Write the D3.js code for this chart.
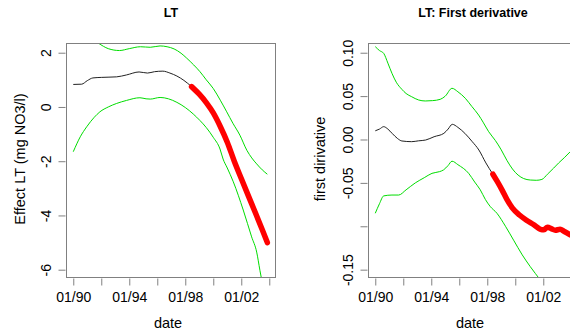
<!DOCTYPE html>
<html>
<head>
<meta charset="utf-8">
<script src="https://cdn.jsdelivr.net/npm/d3@7"></script>
<style>
  body { margin: 0; background: #fff; }
  svg { display: block; font-family: "Liberation Sans", Arial, sans-serif; }
</style>
</head>
<body>
<div id="chart"></div>
<script>
// ---- data ----
// left panel: effect LT
const fitYears = [1990, 1990.6, 1991.0, 1991.4, 1992.0, 1993.1, 1993.8, 1994.7, 1995.3, 1995.8, 1996.4, 1996.9, 1997.4, 1997.9, 1998.45];
const fitValues = [0.83, 0.84, 0.97, 1.07, 1.09, 1.11, 1.18, 1.29, 1.25, 1.30, 1.32, 1.25, 1.14, 0.98, 0.75];
const sigYears = [1998.45, 1999.0, 1999.5, 2000.0, 2000.5, 2001.0, 2001.5, 2002.0, 2002.5, 2003.0, 2003.5, 2003.86];
const sigValues = [0.75, 0.47, 0.16, -0.22, -0.72, -1.30, -2.00, -2.64, -3.27, -3.89, -4.53, -5.0];
const upYears = [1990, 1990.5, 1991.0, 1991.8, 1992.5, 1993.3, 1994.0, 1994.8, 1995.5, 1996.2, 1996.7, 1997.2, 1997.7, 1998.1, 1998.6, 1999.05, 1999.5, 2000.0, 2000.5, 2000.96, 2001.4, 2001.9, 2002.4, 2002.75, 2003.1, 2003.5, 2003.86];
const upValues = [3.3, 2.95, 2.65, 2.35, 2.15, 2.08, 2.15, 2.22, 2.20, 2.25, 2.22, 2.14, 1.98, 1.80, 1.55, 1.30, 1.00, 0.68, 0.25, -0.18, -0.60, -1.04, -1.60, -1.88, -2.10, -2.32, -2.48];
const loYears = [1990, 1990.5, 1990.96, 1991.5, 1991.9, 1992.5, 1993.1, 1993.8, 1994.76, 1995.2, 1995.5, 1996.2, 1996.8, 1997.4, 1998.0, 1998.57, 1999.05, 1999.5, 2000.0, 2000.48, 2000.7, 2001.0, 2001.43, 2002.14, 2002.74, 2003.1, 2003.33, 2003.45, 2003.86];
const loValues = [-1.65, -1.10, -0.73, -0.38, -0.18, 0.0, 0.13, 0.24, 0.34, 0.30, 0.29, 0.35, 0.30, 0.17, -0.02, -0.26, -0.50, -0.76, -1.12, -1.55, -1.92, -2.25, -2.76, -3.80, -4.79, -5.35, -6.02, -6.35, -7.5];

// right panel: first derivative
const dFitYears = [1990, 1990.3, 1990.6, 1990.9, 1991.2, 1991.6, 1991.9, 1992.6, 1993.1, 1993.6, 1994.2, 1994.9, 1995.2, 1995.5, 1995.9, 1996.4, 1996.9, 1997.4, 1997.9, 1998.4];
const dFitValues = [0.010, 0.012, 0.0148, 0.012, 0.0071, 0.001, -0.0017, -0.0025, -0.0015, -0.0006, 0.0032, 0.0071, 0.012, 0.0175, 0.014, 0.0071, -0.002, -0.0121, -0.027, -0.040];
const dSigYears = [1998.4, 1998.7, 1999.05, 1999.4, 1999.8, 2000.3, 2000.8, 2001.3, 2001.8, 2002.05, 2002.3, 2002.6, 2002.86, 2003.2, 2003.5, 2003.93];
const dSigValues = [-0.040, -0.048, -0.058, -0.069, -0.079, -0.087, -0.093, -0.098, -0.1035, -0.104, -0.101, -0.103, -0.1045, -0.1035, -0.106, -0.110];
const dUpYears = [1990, 1990.3, 1990.6, 1990.9, 1991.19, 1991.5, 1991.9, 1992.2, 1992.6, 1993.1, 1993.57, 1994.1, 1994.64, 1995.0, 1995.48, 1995.9, 1996.43, 1996.9, 1997.38, 1997.7, 1998.1, 1998.57, 1999.0, 1999.4, 1999.8, 2000.2, 2000.6, 2001.07, 2001.5, 2001.9, 2002.3, 2002.74, 2003.1, 2003.5, 2003.93];
const dUpValues = [0.107, 0.1025, 0.0993, 0.088, 0.0763, 0.066, 0.0578, 0.053, 0.0493, 0.0455, 0.0444, 0.0448, 0.0463, 0.050, 0.059, 0.055, 0.0475, 0.038, 0.0282, 0.020, 0.009, -0.001, -0.012, -0.024, -0.034, -0.041, -0.045, -0.0467, -0.047, -0.046, -0.040, -0.033, -0.027, -0.021, -0.014];
const dLoYears = [1990, 1990.3, 1990.6, 1991.19, 1991.67, 1992.2, 1992.86, 1993.5, 1994.05, 1994.6, 1994.88, 1995.2, 1995.48, 1995.9, 1996.67, 1997.1, 1997.5, 1997.86, 1998.2, 1998.69, 1999.3, 1999.88, 2000.5, 2001.07, 2001.79, 2002.5, 2003.93];
const dLoValues = [-0.085, -0.074, -0.065, -0.064, -0.064, -0.058, -0.050, -0.044, -0.039, -0.037, -0.035, -0.030, -0.025, -0.029, -0.039, -0.049, -0.058, -0.069, -0.077, -0.085, -0.100, -0.116, -0.133, -0.1465, -0.162, -0.178, -0.21];

// axes
const xTickYears = [1990, 1992, 1994, 1996, 1998, 2000, 2002, 2004];
const xTickLabels = ["01/90", "", "01/94", "", "01/98", "", "01/02", ""];
const yTicksLeft = [-6, -4, -2, 0, 2];
const yTicksRight = [-0.15, -0.10, -0.05, 0, 0.05, 0.10];
const yTickLabelsRight = ["-0.15", "", "-0.05", "0.00", "0.05", "0.10"];

const W = 570, H = 333;
const svg = d3.select("#chart").append("svg").attr("width", W).attr("height", H);

const plotTop = 43, plotBottom = 278, boxW = 210;
const xDomain = [1989.48, 2004.48];

function zip(xs, ys) { return xs.map((x, i) => [x, ys[i]]); }

function panel(opt) {
  const x = d3.scaleLinear().domain(xDomain).range([opt.left, opt.left + boxW]);
  const y = d3.scaleLinear().domain(opt.yDomain).range([plotBottom, plotTop]);
  const g = svg.append("g");

  const clipId = "clip" + opt.id;
  svg.append("clipPath").attr("id", clipId).append("rect")
    .attr("x", opt.left).attr("y", plotTop).attr("width", boxW).attr("height", plotBottom - plotTop);

  const line = d3.line().x(d => x(d[0])).y(d => y(d[1])).curve(d3.curveMonotoneX);
  const plot = g.append("g").attr("clip-path", "url(#" + clipId + ")");

  plot.append("path").datum(zip(opt.up[0], opt.up[1]))
    .attr("d", line).attr("fill", "none").attr("stroke", "#00dd00").attr("stroke-width", 1);
  plot.append("path").datum(zip(opt.lo[0], opt.lo[1]))
    .attr("d", line).attr("fill", "none").attr("stroke", "#00dd00").attr("stroke-width", 1);
  plot.append("path").datum(zip(opt.fit[0], opt.fit[1]))
    .attr("d", line).attr("fill", "none").attr("stroke", "#222").attr("stroke-width", 1);
  plot.append("path").datum(zip(opt.sig[0], opt.sig[1]))
    .attr("d", line).attr("fill", "none").attr("stroke", "#ff0000")
    .attr("stroke-width", 5.5).attr("stroke-linecap", "round").attr("stroke-linejoin", "round");

  // box
  g.append("rect").attr("x", opt.left + 0.5).attr("y", plotTop + 0.5)
    .attr("width", boxW - 1).attr("height", plotBottom - plotTop - 1)
    .attr("fill", "none").attr("stroke", "#808080").attr("stroke-width", 1);

  // x axis
  const xa = g.append("g").attr("transform", "translate(0," + (plotBottom + 0.5) + ")")
    .call(d3.axisBottom(x).tickValues(xTickYears)
      .tickFormat((d, i) => xTickLabels[i]).tickSize(7).tickSizeOuter(0));
  xa.select(".domain").remove();
  xa.selectAll(".tick line").attr("stroke", "#808080");
  xa.selectAll(".tick text").attr("y", 23.5).attr("dy", null)
    .attr("fill", "#000").style("font-size", "14px");

  // y axis
  const ya = g.append("g").attr("transform", "translate(" + (opt.left - 0.5) + ",0)")
    .call(d3.axisLeft(y).tickValues(opt.yTicks)
      .tickFormat((d, i) => opt.yLabels[i]).tickSize(7).tickSizeOuter(0));
  ya.select(".domain").remove();
  ya.selectAll(".tick line").attr("stroke", "#808080");
  ya.selectAll(".tick text").attr("x", 0).attr("dy", "0.35em")
    .attr("text-anchor", "middle")
    .attr("transform", "translate(-19.5,0) rotate(-90)")
    .attr("fill", "#000").style("font-size", "14px");

  // labels
  g.append("text").attr("x", opt.left + boxW / 2).attr("y", 17)
    .attr("text-anchor", "middle").style("font-size", "12.5px").style("font-weight", "bold")
    .text(opt.title);
  g.append("text").attr("x", opt.left + boxW / 2 - 3).attr("y", 328)
    .attr("text-anchor", "middle").style("font-size", "14.5px").text("date");
  g.append("text").attr("transform", "translate(" + opt.ylabX + ",159) rotate(-90)")
    .attr("dy", "0.35em").attr("text-anchor", "middle").style("font-size", "14.5px")
    .text(opt.ylab);
}

panel({
  id: "L", left: 66, yDomain: [-6.306, 2.358],
  fit: [fitYears, fitValues], sig: [sigYears, sigValues],
  up: [upYears, upValues], lo: [loYears, loValues],
  yTicks: yTicksLeft, yLabels: yTicksLeft.map(String),
  title: "LT", ylab: "Effect LT (mg NO3/l)", ylabX: 20
});

panel({
  id: "R", left: 368, yDomain: [-0.1596, 0.1112],
  fit: [dFitYears, dFitValues], sig: [dSigYears, dSigValues],
  up: [dUpYears, dUpValues], lo: [dLoYears, dLoValues],
  yTicks: yTicksRight, yLabels: yTickLabelsRight,
  title: "LT: First derivative", ylab: "first dirivative", ylabX: 320
});
</script>
</body>
</html>
